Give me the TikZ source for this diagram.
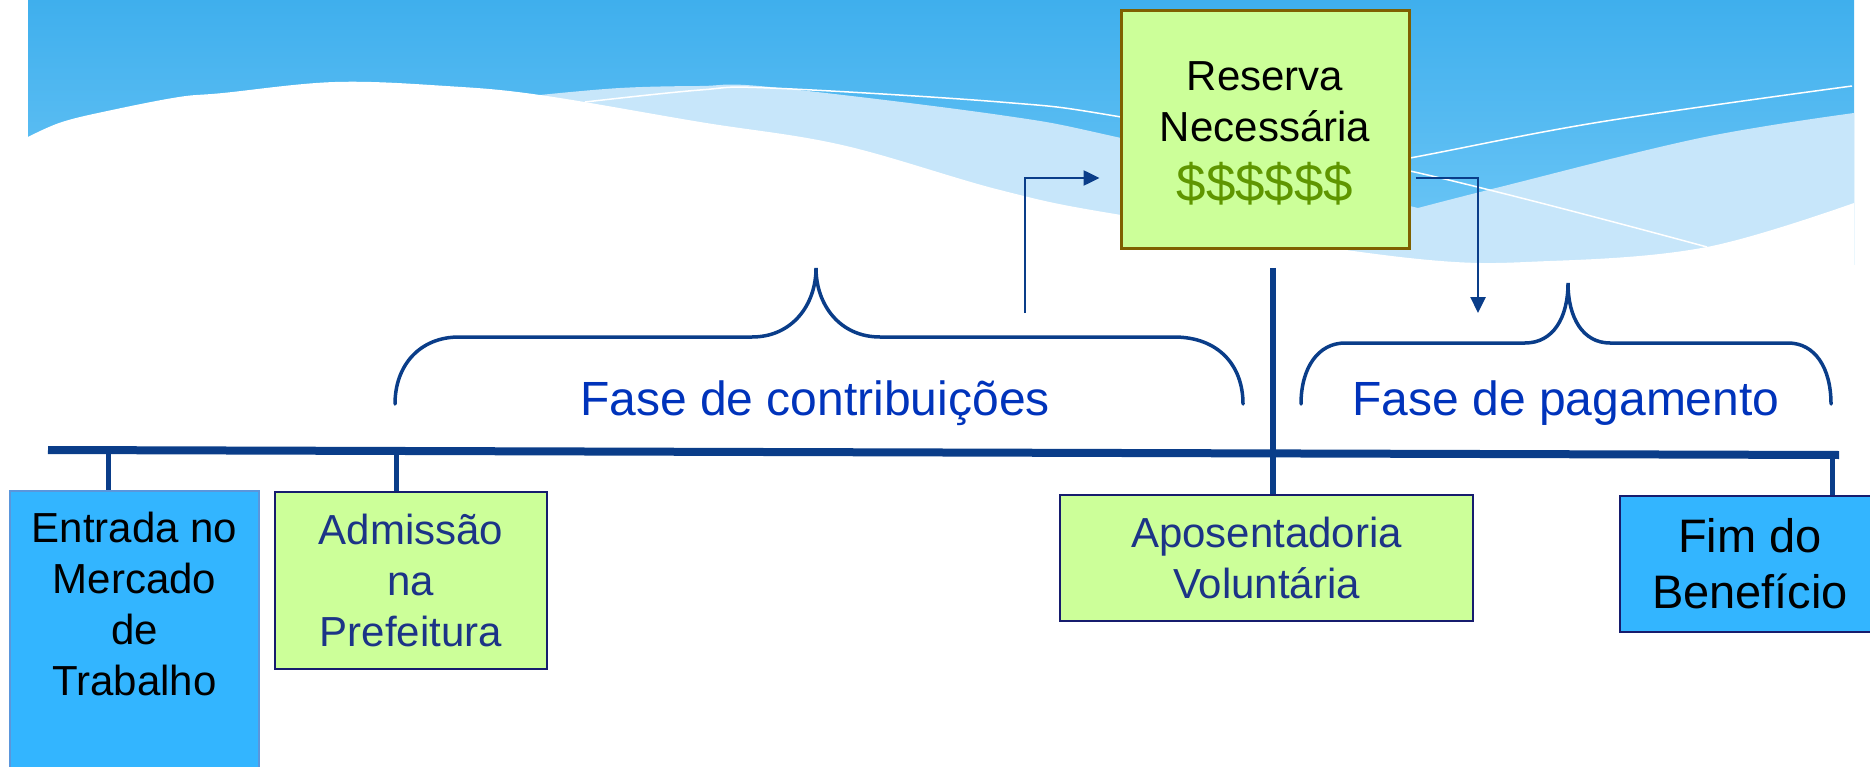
\documentclass[tikz,border=0pt]{standalone}
\usepackage{fontspec}
\setmainfont{Liberation Sans}
\usetikzlibrary{arrows.meta}

\definecolor{bgtop}{RGB}{63,175,237}
\definecolor{bgbot}{RGB}{112,200,247}
\definecolor{bglight}{RGB}{199,230,250}
\definecolor{navy}{RGB}{10,61,137}
\definecolor{boxnavy}{RGB}{22,28,110}
\definecolor{boxgreen}{RGB}{204,255,153}
\definecolor{boxblue}{RGB}{51,181,255}
\definecolor{entline}{RGB}{90,150,220}
\definecolor{resline}{RGB}{127,96,0}
\definecolor{dollar}{RGB}{95,150,0}
\definecolor{boxtext}{RGB}{28,52,135}
\definecolor{phasetext}{RGB}{0,51,187}

\newcommand{\fsBox}{\fontsize{42}{51}\selectfont}
\newcommand{\fsBig}{\fontsize{47}{56}\selectfont}
\newcommand{\fsPhase}{\fontsize{48}{58}\selectfont}

\begin{document}
\begin{tikzpicture}[x=1pt, y=-1pt,
    wave/.style={draw=white, line width=1.5pt},
    greenbox/.style={draw=boxnavy, line width=2pt, fill=boxgreen, inner sep=0pt, align=center, text=boxtext, font=\fsBox},
    bluebox/.style={draw=boxnavy, line width=2pt, fill=boxblue, inner sep=0pt, align=center, font=\fsBig},
    resbox/.style={draw=resline, line width=3pt, fill=boxgreen, inner sep=0pt, align=center, font=\fsBox},
    timeline/.style={draw=navy, line width=8pt},
    tick/.style={draw=navy, line width=5pt},
    pillar/.style={draw=navy, line width=6pt},
    brace/.style={draw=navy, line width=3.5pt, line cap=round},
    arr/.style={draw=navy, line width=2.5pt, -{Triangle[length=16pt, width=15pt]}},
    phase/.style={text=phasetext, font=\fsPhase}]
      \def\ytl{450}% timeline
      \def\ybr{404}% feet of the braces
      \def\yar{313}% feet of the arrows
      \useasboundingbox (0,0) rectangle (1870,767);
      % -------------------------------------------- background
      \fill[top color=bgtop, bottom color=bgbot] (28,0) rectangle (1854,265);
      \fill[bglight] plot[smooth, tension=0.6] coordinates {(540,95) (620,88) (700,86) (770,87) (1000,115) (1121,138) (1418,208)}
        -- plot[smooth, tension=0.6] coordinates {(1418,208) (1500,187) (1700,138) (1854,113)} -- (1854,265) -- (540,265) -- cycle;
      \draw[wave] plot[smooth, tension=0.6] coordinates {(585,102) (700,90) (770,88) (1000,102) (1121,117) (1410,171) (1707,247)};
      \draw[wave] plot[smooth, tension=0.6] coordinates {(1260,185) (1410,158) (1600,122) (1852,86)};
      \fill[white] plot[smooth, tension=0.6] coordinates {(28,137) (62,122) (112,110) (179,97) (223,93) (335,82) (446,86) (540,95) (700,122) (842,145) (1000,190) (1121,215) (1409,258) (1550,261) (1707,247) (1854,203)}
        -- (1854,280) -- (28,280) -- cycle;
      % -------------------------------------------- boxes
      % set the nodes
      \node[resbox, minimum width=288, minimum height=238] at (1265,130) (box_res) {\rule{0pt}{35pt}Reserva\\Necessária\\[9pt]{\color{dollar}\fontsize{53}{60}\selectfont\$\$\$\$\$\$}};
      \node[bluebox, draw=entline, minimum width=249, minimum height=290, anchor=north] at (134.5,490) (box_ent) {};
      \node[anchor=north, align=center, inner sep=0pt, font=\fsBox] at ([yshift=-22pt]box_ent.north) (txt_ent) {Entrada no\\Mercado\\de\\Trabalho};
      \node[greenbox, minimum width=272, minimum height=177] at (411,580.5) (box_adm) {Admissão\\na\\Prefeitura};
      \node[greenbox, minimum width=413, minimum height=126] at (1266.5,558) (box_apo) {Aposentadoria\\Voluntária};
      \node[bluebox, minimum width=260, minimum height=136] at (1750,564) (box_fim) {Fim do\\Benefício};
      % -------------------------------------------- timeline
      \coordinate (tl_l) at (48,\ytl);
      \coordinate (tl_r) at (1839,455);
      \coordinate (tk_ent) at (108,\ytl);
      \coordinate (tk_adm) at (396,451);
      \coordinate (tk_fim) at (1832,451);
      \coordinate (res_foot) at (1273,268);
      % draw edges
      \draw[timeline] (tl_l) -- (tl_r);
      \draw[tick] (tk_ent) -- (tk_ent |- box_ent.north);
      \draw[tick] (tk_adm) -- (tk_adm |- box_adm.north);
      \draw[tick] (tk_fim) -- (tk_fim |- box_fim.north);
      \draw[pillar] (res_foot) -- (res_foot |- box_apo.north);
      % -------------------------------------------- arrows
      \coordinate (in_foot) at (1025,\yar);
      \coordinate (out_foot) at (1478,\yar);
      \draw[arr] (in_foot) |- ([xshift=-20pt, yshift=-48pt]box_res.west);
      \draw[arr] ([xshift=5pt, yshift=-48pt]box_res.east) -| (out_foot);
      % -------------------------------------------- braces
      \coordinate (brc_l) at (395,\ybr);
      \coordinate (brc_tip) at (816,268);
      \coordinate (brc_r) at (1243,\ybr);
      \draw[brace] (brc_l) .. controls (395,365) and (420,337) .. (459,337) -- (752,337)
        .. controls (792,337) and (816,305) .. (brc_tip) .. controls (816,305) and (840,337) .. (880,337)
        -- (1174,337) .. controls (1218,337) and (1243,365) .. (brc_r);
      \coordinate (brp_l) at (1301,\ybr);
      \coordinate (brp_tip) at (1568,283);
      \coordinate (brp_r) at (1831,\ybr);
      \draw[brace] (brp_l) .. controls (1301,368) and (1318,343) .. (1345,343) -- (1525,343)
        .. controls (1553,343) and (1568,318) .. (brp_tip) .. controls (1568,318) and (1583,343) .. (1610,343)
        -- (1788,343) .. controls (1815,343) and (1831,368) .. (brp_r);
      % -------------------------------------------- Names
      \node[phase, anchor=base] at (815,415) (txt_contrib) {Fase de contribuições};
      \node[phase, anchor=base] at (1566,415) (txt_pag) {Fase de pagamento};
    \end{tikzpicture}
\end{document}
